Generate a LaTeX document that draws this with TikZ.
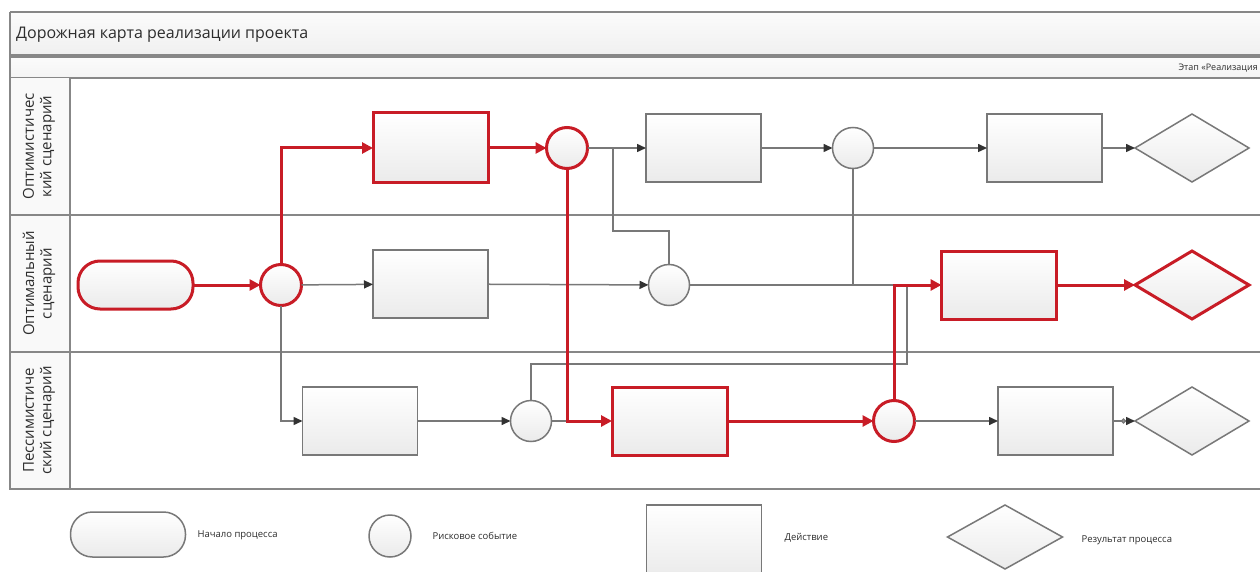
\documentclass[tikz,border=0pt]{standalone}
\usepackage{fontspec}
\setmainfont{Open Sans}
\usetikzlibrary{arrows.meta,shapes.geometric,calc}
\definecolor{rred}{RGB}{200,28,38}
\definecolor{lgray}{RGB}{120,120,120}
\definecolor{fgray}{RGB}{135,135,135}
\definecolor{agray}{RGB}{50,50,50}
\definecolor{tgray}{RGB}{45,45,45}
\tikzset{
  shapefill/.style={top color=white, bottom color=gray!16},
  actbox/.style={draw=lgray, line width=1.5pt, shapefill, minimum width=115pt, minimum height=68pt, inner sep=0pt, outer sep=0pt},
  riskc/.style={circle, draw=lgray, line width=1.5pt, shapefill, minimum size=41pt, inner sep=0pt, outer sep=0pt},
  resd/.style={diamond, draw=lgray, line width=1.5pt, shapefill, minimum width=114pt, minimum height=68pt, inner sep=0pt, outer sep=0pt},
  startbox/.style={rectangle, rounded corners=22pt, draw=lgray, line width=1.5pt, shapefill, minimum width=115pt, minimum height=48pt, inner sep=0pt, outer sep=0pt},
  hot/.style={draw=rred, line width=3pt},
  gline/.style={draw=lgray, line width=1.5pt},
  garr/.style={gline, -{Triangle[length=9pt,width=8pt,color=agray]}},
  rline/.style={draw=rred, line width=3pt},
  rarr/.style={rline, -{Triangle[length=11pt,width=11pt]}},
  lanelbl/.style={rotate=90, align=center, text=tgray, font=\fontsize{15}{17.5}\selectfont},
  legtxt/.style={anchor=west, text=tgray, font=\fontsize{9.5}{11}\selectfont},
  frame/.style={draw=fgray, line width=1.5pt},
}
\begin{document}
\begin{tikzpicture}[x=1pt,y=-1pt]
\useasboundingbox (0,0) rectangle (1260,572);
\clip (0,0) rectangle (1260,572);
\fill[white] (0,0) rectangle (1260,572);
% header bands
\shade[top color=gray!3, bottom color=gray!12] (10,12) rectangle (1265,55);
\draw[frame] (10,12) -- (1265,12);
\draw[frame] (10,55) -- (1265,55);
\shade[top color=gray!3, bottom color=gray!9] (10,57) rectangle (1265,78);
\draw[frame] (10,57) -- (1265,57);
\draw[frame] (10,78) -- (1265,78);
\fill[gray!5] (10,78) rectangle (70,489);
\draw[frame] (10,12) -- (10,489) -- (1265,489);
\draw[frame] (70,78) -- (70,489);
\draw[frame] (10,215) -- (1265,215);
\draw[frame] (10,352) -- (1265,352);
\node[anchor=base west, text=tgray, font=\fontsize{16}{18}\selectfont, inner sep=0pt] (title) at (16,39) {Дорожная карта реализации проекта};
\node[anchor=east, text=tgray, font=\fontsize{9}{10}\selectfont, inner sep=0pt] (stage) at (1258,68) {Этап «Реализация};
% lane labels
\node[lanelbl] (l1) at (39,146.5) {Оптимистичес\\кий сценарий};
\node[lanelbl] (l2) at (39,283.5) {Оптимальный\\сценарий};
\node[lanelbl] (l3) at (39,420.5) {Пессимистиче\\ский сценарий};
% nodes
\node[startbox, hot] (start) at (135.5,285) {};
\node[riskc, hot] (c1) at (281,285) {};
\node[actbox, hot, minimum height=70pt] (bO1) at (430.5,148) {};
\node[riskc, hot] (c2) at (567,148) {};
\node[actbox] (bO2) at (703.5,148) {};
\node[riskc] (c3) at (853,148) {};
\node[actbox] (bO3) at (1044.5,148) {};
\node[resd] (dO) at (1192,148) {};
\node[actbox] (bM1) at (430.5,284) {};
\node[riskc] (cM) at (669,285) {};
\node[actbox, hot] (bM2) at (999,285) {};
\node[resd, hot] (dM) at (1192,285) {};
\node[actbox] (bP1) at (360,421) {};
\node[riskc] (cP) at (531,421) {};
\node[actbox, hot] (bP2) at (669.5,421) {};
\node[riskc, hot] (cP2) at (894,421) {};
\node[actbox] (bP3) at (1055.5,421) {};
\node[resd] (dP) at (1192,421) {};
% junction coordinates
\coordinate (j1) at (613,148);
\coordinate (j2) at (613,231);
\coordinate (j3) at (669,231);
\coordinate (jM) at (894,285);
\coordinate (j4) at (531,364);
\coordinate (j5) at (907,364);
\coordinate (j6) at (907,285);
\coordinate (jP) at (567,421);
\coordinate (j7) at (853,285);
% gray connectors
\draw[garr] (c1) -- (bM1);
\draw[garr] (c1.south) |- (bP1.west);
\draw[garr] (bM1) -- (cM);
\draw[garr] (c2) -- (bO2);
\draw[gline] (j1) -- (j2) -- (j3) -- (cM.north);
\draw[garr] (bO2) -- (c3);
\draw[garr] (c3) -- (bO3);
\draw[garr] (bO3) -- (dO);
\draw[gline] (cM.east) -- (jM);
\draw[gline] (c3.south) -- (j7);
\draw[garr] (bP1) -- (cP);
\draw[gline] (cP.north) -- (j4) -- (j5) -- (j6);
\draw[gline] (cP.east) -- (jP);
\draw[garr] (cP2) -- (bP3);
\draw[gline, -{Circle[open,length=5pt,width=5pt,color=lgray,fill=white] Triangle[length=9pt,width=8pt,color=agray]}] (bP3) -- (dP);
% red connectors
\draw[rarr] (start) -- (c1);
\draw[rarr] (c1.north) |- (bO1.west);
\draw[rarr] (bO1) -- (c2);
\draw[rarr] (c2.south) |- (bP2.west);
\draw[rarr] (bP2) -- (cP2);
\draw[rarr] (cP2.north) |- (bM2.west);
\draw[rarr] (bM2) -- (dM);
% legend
\node[startbox, minimum height=45pt] (lg1) at (128,534.5) {};
\node[legtxt] (lt1) at (194,535) {Начало процесса};
\node[riskc, minimum size=42pt] (lg2) at (390,536) {};
\node[legtxt] (lt2) at (429,536) {Рисковое событие};
\node[actbox, minimum height=72pt] (lg3) at (704,541) {};
\node[legtxt] (lt3) at (781,538) {Действие};
\node[resd, minimum width=115pt, minimum height=64pt] (lg4) at (1005,537) {};
\node[legtxt] (lt4) at (1078,540) {Результат процесса};
\end{tikzpicture}
\end{document}
